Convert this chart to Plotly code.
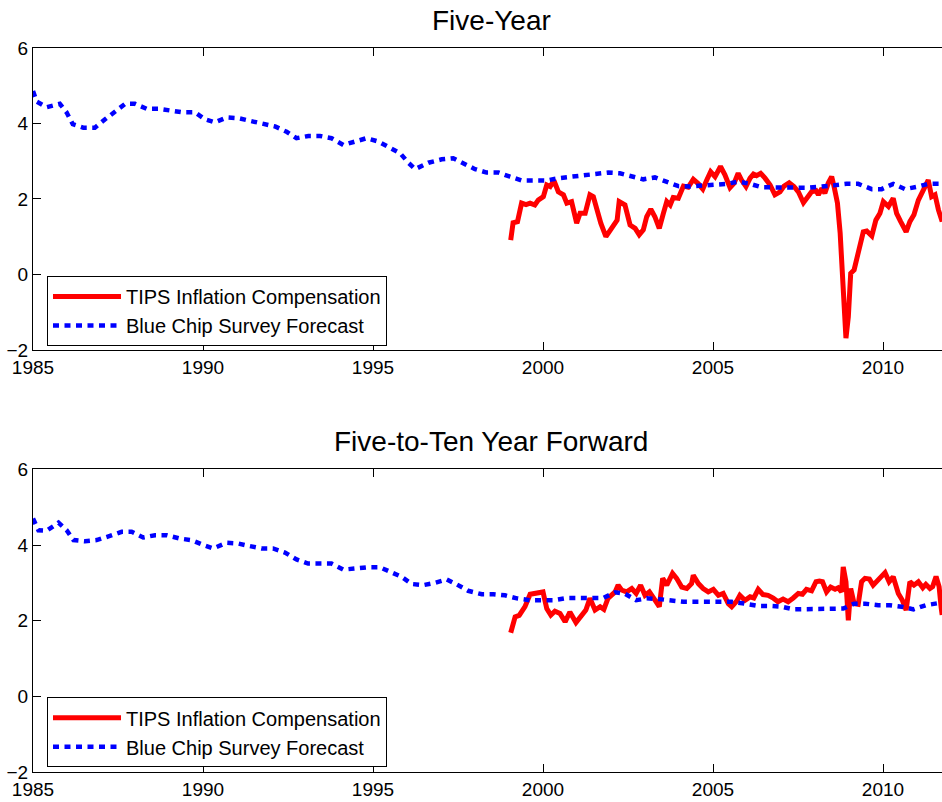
import plotly.graph_objects as go

# ---------------- Five-Year ----------------
tips5_year = [1999.05, 1999.12, 1999.25, 1999.37, 1999.50, 1999.62, 1999.76, 1999.86, 2000.01, 2000.11,
              2000.21, 2000.32, 2000.45, 2000.60, 2000.70, 2000.84, 2000.99, 2001.09, 2001.24, 2001.38,
              2001.48, 2001.58, 2001.70, 2001.85, 2001.97, 2002.12, 2002.18, 2002.24, 2002.41, 2002.56,
              2002.71, 2002.83, 2002.95, 2003.05, 2003.17, 2003.29, 2003.42, 2003.54, 2003.64, 2003.74,
              2003.83, 2003.98, 2004.13, 2004.27, 2004.42, 2004.57, 2004.70, 2004.81, 2004.93, 2005.06,
              2005.22, 2005.35, 2005.50, 2005.62, 2005.74, 2005.84, 2005.97, 2006.09, 2006.19, 2006.28,
              2006.40, 2006.53, 2006.68, 2006.82, 2006.97, 2007.09, 2007.24, 2007.38, 2007.51, 2007.66,
              2007.77, 2007.90, 2008.03, 2008.10, 2008.20, 2008.29, 2008.39, 2008.49, 2008.56, 2008.66,
              2008.74, 2008.81, 2008.91, 2008.98, 2009.05, 2009.15, 2009.23, 2009.32, 2009.42, 2009.52,
              2009.67, 2009.79, 2009.91, 2010.01, 2010.16, 2010.30, 2010.40, 2010.52, 2010.68, 2010.79,
              2010.91, 2011.04, 2011.19, 2011.33, 2011.43, 2011.53, 2011.63, 2011.74]
tips5_val = [0.91, 1.37, 1.40, 1.89, 1.85, 1.89, 1.84, 1.97, 2.06, 2.37,
             2.33, 2.49, 2.19, 2.11, 1.89, 1.93, 1.36, 1.62, 1.62, 2.11,
             2.06, 1.71, 1.36, 1.00, 1.18, 1.40, 1.44, 1.93, 1.84, 1.31,
             1.22, 1.05, 1.18, 1.53, 1.73, 1.53, 1.22, 1.62, 1.93, 1.84,
             2.04, 2.02, 2.34, 2.31, 2.52, 2.40, 2.26, 2.49, 2.72, 2.59,
             2.86, 2.64, 2.30, 2.42, 2.68, 2.50, 2.33, 2.55, 2.66, 2.62,
             2.68, 2.55, 2.37, 2.11, 2.19, 2.34, 2.43, 2.33, 2.19, 1.90,
             2.06, 2.19, 2.22, 2.11, 2.28, 2.15, 2.42, 2.59, 2.33, 1.89,
             1.09, -0.32, -1.69, -1.12, 0.03, 0.12, 0.43, 0.65, 1.13, 1.15,
             1.02, 1.44, 1.62, 1.93, 1.80, 2.02, 1.62, 1.40, 1.13, 1.40,
             1.58, 1.97, 2.28, 2.50, 2.06, 2.11, 1.71, 1.40]

bc5_year = [1985.00, 1985.11, 1985.40, 1985.79, 1985.99, 1986.17, 1986.48, 1986.82, 1987.12, 1987.41,
            1987.71, 1988.00, 1988.34, 1988.69, 1989.03, 1989.37, 1989.76, 1990.06, 1990.35, 1990.70,
            1991.04, 1991.43, 1991.77, 1992.12, 1992.46, 1992.75, 1993.10, 1993.44, 1993.78, 1994.13,
            1994.47, 1994.81, 1995.16, 1995.45, 1995.80, 1996.04, 1996.24, 1996.63, 1997.02, 1997.36,
            1997.66, 1998.00, 1998.34, 1998.69, 1999.03, 1999.37, 1999.72, 2000.10, 2000.45, 2000.80,
            2001.19, 2001.53, 2001.92, 2002.26, 2002.60, 2002.95, 2003.29, 2003.64, 2003.98, 2004.30,
            2004.71, 2005.06, 2005.40, 2005.74, 2006.09, 2006.43, 2006.77, 2007.10, 2007.46, 2007.85,
            2008.20, 2008.54, 2008.93, 2009.27, 2009.67, 2009.96, 2010.30, 2010.65, 2010.99, 2011.33,
            2011.74]
bc5_val = [4.86, 4.58, 4.43, 4.52, 4.29, 3.98, 3.89, 3.89, 4.11, 4.33,
           4.52, 4.52, 4.39, 4.39, 4.34, 4.30, 4.30, 4.11, 4.03, 4.16,
           4.14, 4.07, 4.00, 3.92, 3.78, 3.61, 3.67, 3.67, 3.61, 3.43,
           3.52, 3.61, 3.52, 3.39, 3.21, 2.96, 2.79, 2.96, 3.05, 3.08,
           2.95, 2.79, 2.70, 2.70, 2.59, 2.49, 2.49, 2.49, 2.55, 2.59,
           2.62, 2.66, 2.70, 2.68, 2.60, 2.52, 2.57, 2.45, 2.34, 2.33,
           2.36, 2.38, 2.40, 2.46, 2.40, 2.31, 2.30, 2.30, 2.30, 2.30,
           2.32, 2.36, 2.40, 2.40, 2.26, 2.26, 2.40, 2.26, 2.32, 2.40,
           2.40]

# ---------------- Five-to-Ten Year Forward ----------------
tips510_year = [1999.05, 1999.18, 1999.30, 1999.47, 1999.62, 1999.75, 1999.91, 2000.00, 2000.11, 2000.23,
                2000.35, 2000.50, 2000.65, 2000.79, 2000.97, 2001.14, 2001.26, 2001.38, 2001.53, 2001.68,
                2001.79, 2001.91, 2002.02, 2002.12, 2002.21, 2002.31, 2002.46, 2002.61, 2002.74, 2002.87,
                2003.00, 2003.13, 2003.26, 2003.42, 2003.52, 2003.64, 2003.81, 2003.93, 2004.08, 2004.23,
                2004.37, 2004.42, 2004.57, 2004.71, 2004.86, 2005.01, 2005.16, 2005.30, 2005.45, 2005.55,
                2005.70, 2005.79, 2005.94, 2006.09, 2006.20, 2006.33, 2006.47, 2006.62, 2006.77, 2006.91,
                2007.06, 2007.21, 2007.36, 2007.51, 2007.63, 2007.75, 2007.90, 2008.03, 2008.13, 2008.22,
                2008.34, 2008.46, 2008.59, 2008.68, 2008.78, 2008.83, 2008.91, 2008.98, 2009.05, 2009.15,
                2009.27, 2009.37, 2009.47, 2009.60, 2009.71, 2009.86, 2010.06, 2010.18, 2010.30, 2010.45,
                2010.57, 2010.68, 2010.79, 2010.91, 2011.04, 2011.17, 2011.26, 2011.38, 2011.46, 2011.56,
                2011.65, 2011.71, 2011.74]
tips510_val = [1.68, 2.10, 2.14, 2.37, 2.70, 2.72, 2.76, 2.76, 2.32, 2.15,
               2.25, 2.19, 1.97, 2.23, 1.95, 2.13, 2.28, 2.59, 2.28, 2.37,
               2.30, 2.59, 2.69, 2.76, 2.94, 2.81, 2.76, 2.85, 2.72, 2.94,
               2.67, 2.76, 2.59, 2.37, 3.12, 2.94, 3.25, 3.12, 2.89, 2.85,
               2.98, 3.20, 2.98, 2.85, 2.76, 2.83, 2.67, 2.72, 2.45, 2.37,
               2.52, 2.67, 2.54, 2.63, 2.60, 2.83, 2.69, 2.67, 2.60, 2.50,
               2.57, 2.50, 2.60, 2.72, 2.70, 2.83, 2.79, 3.03, 3.05, 3.03,
               2.76, 2.89, 2.83, 2.87, 2.76, 3.42, 3.03, 2.01, 2.85, 2.45,
               2.43, 3.03, 3.12, 3.10, 2.94, 3.07, 3.27, 3.03, 3.16, 2.72,
               2.54, 2.28, 3.03, 2.94, 3.03, 2.87, 2.96, 2.85, 2.90, 3.17,
               2.90, 2.35, 2.15]

bc510_year = [1985.00, 1985.16, 1985.40, 1985.75, 1985.99, 1986.19, 1986.53, 1986.87, 1987.26, 1987.61,
              1987.90, 1988.24, 1988.59, 1988.93, 1989.32, 1989.66, 1990.01, 1990.30, 1990.70, 1991.04,
              1991.38, 1991.72, 1992.06, 1992.41, 1992.75, 1993.09, 1993.44, 1993.78, 1994.13, 1994.47,
              1994.81, 1995.21, 1995.50, 1995.84, 1996.14, 1996.48, 1996.82, 1997.17, 1997.46, 1997.80,
              1998.20, 1998.54, 1998.88, 1999.23, 1999.62, 1999.96, 2000.30, 2000.69, 2001.00, 2001.38,
              2001.77, 2002.12, 2002.41, 2002.74, 2003.05, 2003.42, 2003.78, 2004.13, 2004.47, 2004.86,
              2005.20, 2005.55, 2005.94, 2006.33, 2006.67, 2007.02, 2007.36, 2007.74, 2008.10, 2008.45,
              2008.83, 2009.15, 2009.47, 2009.86, 2010.20, 2010.55, 2010.90, 2011.26, 2011.60, 2011.74]
bc510_val = [4.70, 4.39, 4.38, 4.59, 4.39, 4.13, 4.10, 4.13, 4.24, 4.35,
             4.35, 4.20, 4.26, 4.26, 4.17, 4.13, 4.00, 3.91, 4.06, 4.04,
             3.97, 3.91, 3.91, 3.80, 3.62, 3.51, 3.51, 3.51, 3.35, 3.38,
             3.41, 3.41, 3.29, 3.16, 2.97, 2.94, 3.00, 3.09, 2.96, 2.79,
             2.70, 2.70, 2.67, 2.59, 2.54, 2.53, 2.54, 2.60, 2.60, 2.60,
             2.60, 2.75, 2.71, 2.54, 2.59, 2.57, 2.52, 2.50, 2.50, 2.50,
             2.50, 2.50, 2.45, 2.39, 2.39, 2.37, 2.30, 2.30, 2.30, 2.30,
             2.32, 2.45, 2.45, 2.41, 2.41, 2.37, 2.30, 2.41, 2.48, 2.48]

x_ticks = [1985, 1990, 1995, 2000, 2005, 2010]
y_ticks = [-2, 0, 2, 4, 6]
x_range = [1985, 2011.735]
y_range = [-2, 6]

titles = ["Five-Year", "Five-to-Ten Year Forward"]
tips_name = "TIPS Inflation Compensation"
bc_name = "Blue Chip Survey Forecast"

FONT = "Liberation Sans, Arial, Helvetica, sans-serif"
RED = "#ff0000"
BLUE = "#0000ff"

fig = go.Figure()

panels = [
    (tips5_year, tips5_val, bc5_year, bc5_val, "x", "y", "legend"),
    (tips510_year, tips510_val, bc510_year, bc510_val, "x2", "y2", "legend2"),
]
for ty, tv, by, bv, xa, ya, lg in panels:
    fig.add_trace(go.Scatter(x=ty, y=tv, mode="lines", name=tips_name,
                             line=dict(color=RED, width=5),
                             xaxis=xa, yaxis=ya, legend=lg))
    fig.add_trace(go.Scatter(x=by, y=bv, mode="lines", name=bc_name,
                             line=dict(color=BLUE, width=4.5, dash="6px,5.5px"),
                             xaxis=xa, yaxis=ya, legend=lg))

xstyle = dict(range=x_range, tickvals=x_ticks, ticks="inside", ticklen=8,
              tickcolor="black", tickwidth=1, showline=True, linecolor="black",
              linewidth=1, mirror="ticks", showgrid=False, zeroline=False,
              tickfont=dict(family=FONT, size=19, color="black"))
ystyle = dict(range=y_range, tickvals=y_ticks, ticks="inside", ticklen=8,
              tickcolor="black", tickwidth=1, showline=True, linecolor="black",
              linewidth=1, showgrid=False, zeroline=False,
              tickfont=dict(family=FONT, size=19, color="black"))

legend_style = dict(font=dict(family=FONT, size=20, color="black"),
                    bgcolor="white", bordercolor="black", borderwidth=1,
                    xanchor="left", yanchor="bottom", itemwidth=68,
                    tracegroupgap=0)

fig.update_layout(
    width=942, height=802,
    margin=dict(l=33, r=0, t=48, b=30),
    plot_bgcolor="white", paper_bgcolor="white",
    font=dict(family=FONT, color="black"),
    xaxis=dict(domain=[0, 1], anchor="y", **xstyle),
    yaxis=dict(domain=[0.583, 1], anchor="x", **ystyle),
    xaxis2=dict(domain=[0, 1], anchor="y2", **xstyle),
    yaxis2=dict(domain=[0, 0.418], anchor="x2", **ystyle),
    legend=dict(x=0.0154, y=0.5884, **legend_style),
    legend2=dict(x=0.0154, y=0.0065, **legend_style),
    annotations=[
        dict(text=titles[0], x=0.5039, y=1.0376, xref="paper", yref="paper",
             xanchor="center", yanchor="middle", showarrow=False,
             font=dict(family=FONT, size=28, color="black")),
        dict(text=titles[1], x=0.5039, y=0.4561, xref="paper", yref="paper",
             xanchor="center", yanchor="middle", showarrow=False,
             font=dict(family=FONT, size=28, color="black")),
    ],
)

fig.write_html("out.html")
